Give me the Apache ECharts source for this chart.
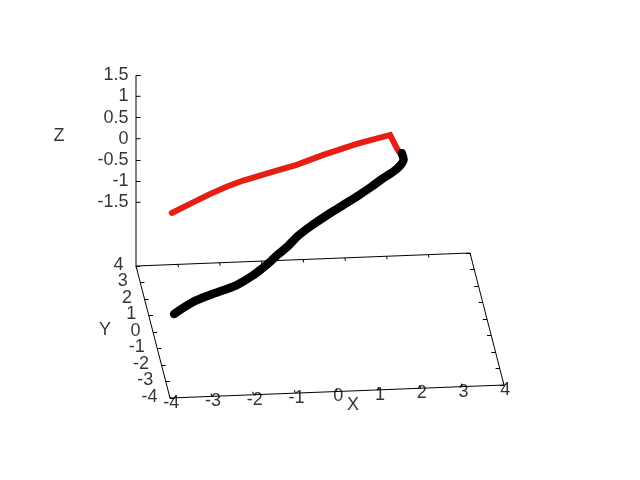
<!DOCTYPE html>
<html>
<head>
<meta charset="utf-8">
<title>3D trajectory</title>
<script src="https://cdn.jsdelivr.net/npm/echarts@6/dist/echarts.min.js"></script>
<style>
  html, body { margin: 0; padding: 0; background: #fff; }
  #main { width: 640px; height: 480px; }
</style>
</head>
<body>
<div id="main"></div>
<script>
// axis ranges / tick labels
const xRange = [-4, 4]
const yRange = [-4, 4]
const zRange = [-1.5, 1.5]
const xTicks = [-4, -3, -2, -1, 0, 1, 2, 3, 4]
const yTicks = [-4, -3, -2, -1, 0, 1, 2, 3, 4]
const zTicks = [-1.5, -1, -0.5, 0, 0.5, 1, 1.5]

// red part of the trajectory
const redX = [-3.55, -3.04, -2.64, -2.24, -1.84, -1.44, -1.04, -0.56, 0.08, 0.88, 1.68, 1.84, 1.92]
const redY = [0, 0, 0, 0, 0, 0, 0, 0, 0, 0, 0, 0, 0]
const redZ = [-0.21, 0.02, 0.20, 0.36, 0.49, 0.59, 0.69, 0.81, 1.02, 1.25, 1.43, 1.11, 0.99]

// black part of the trajectory
const blackX = [1.96, 1.98, 1.80, 1.45, 1.12, 0.78, 0.43, 0.10, -0.40, -0.71, -0.99, -1.23, -1.44, -1.65, -1.88, -2.30, -2.96, -3.38, -3.86]
const blackY = [0, -0.2, -0.4, -0.6, -0.8, -1.0, -1.2, -1.4, -1.6, -1.8, -2.0, -2.2, -2.4, -2.6, -2.8, -3.0, -3.2, -3.4, -3.6]
const blackZ = [0.99, 0.91, 0.78, 0.65, 0.52, 0.40, 0.29, 0.19, -0.03, -0.16, -0.33, -0.42, -0.51, -0.58, -0.65, -0.79, -0.92, -0.99, -1.18]

// view (gnuplot like, ticslevel 0.5)
const zBase = zRange[0] - 0.5 * (zRange[1] - zRange[0])
const origin = [320, 325.5]   // screen pos of (0, 0, zBase)
const ex = [41.75, -1.625]
const ey = [-4.25, -16.5]
const ez = [0, -42.4]

const proj = (x, y, z) => [
  origin[0] + ex[0] * x + ey[0] * y + ez[0] * (z - zBase),
  origin[1] + ex[1] * x + ey[1] * y + ez[1] * (z - zBase)
]

const textStyle = {color: '#000', fontSize: 18, fontFamily: 'Liberation Sans'}
const [x0, x1] = xRange
const [y0, y1] = yRange

// frame
let frame = [proj(x0, y0, zBase), proj(x1, y0, zBase), proj(x1, y1, zBase), proj(x0, y1, zBase), proj(x0, y0, zBase)]
let zAxisLine = [proj(x0, y1, zBase), proj(x0, y1, zRange[1])]

// tick marks
let ticks = []
xTicks.forEach(v => {
  ticks.push({coords: [proj(v, y0, zBase), proj(v, y0 + 0.18, zBase)]})
  ticks.push({coords: [proj(v, y1, zBase), proj(v, y1 - 0.18, zBase)]})
})
yTicks.forEach(v => {
  ticks.push({coords: [proj(x0, v, zBase), proj(x0 + 0.1, v, zBase)]})
  ticks.push({coords: [proj(x1, v, zBase), proj(x1 - 0.1, v, zBase)]})
})
zTicks.forEach(v => {
  ticks.push({coords: [proj(x0, y1, v), proj(x0 + 0.11, y1, v)]})
})

// text placed as labels of invisible scatter points
const labelSeries = (items, label) => {
  let lab = Object.assign({show: true, formatter: '{b}'}, textStyle, label)
  return {
    type: 'scatter',
    symbolSize: 1,
    silent: true,
    itemStyle: {color: 'rgba(0,0,0,0)'},
    data: items.map(d => ({name: d.name, value: d.value, label: lab})),
    label: lab
  }
}

let xLabels = xTicks.map(v => ({name: String(v), value: proj(v, y0 - 0.3, zBase)}))
let yLabels = yTicks.map(v => ({name: String(v), value: proj(x0, v, zBase)}))
let zLabels = zTicks.map(v => ({name: String(v), value: proj(x0, y1, v)}))

const curve = (xs, ys, zs) => xs.map((x, i) => proj(x, ys[i], zs[i]))

let chart = echarts.init(document.getElementById('main'))
let option = {
  animation: false,
  textStyle: textStyle,
  grid: {left: 0, right: 0, top: 0, bottom: 0},
  xAxis: {type: 'value', min: 0, max: 640, show: false},
  yAxis: {type: 'value', min: 0, max: 480, inverse: true, show: false},
  series: [
    {
      type: 'line', data: frame, symbol: 'none', silent: true,
      lineStyle: {color: '#000', width: 1}
    },
    {
      type: 'line', data: zAxisLine, symbol: 'none', silent: true,
      lineStyle: {color: '#000', width: 1}
    },
    {
      type: 'lines', coordinateSystem: 'cartesian2d', data: ticks, silent: true,
      lineStyle: {color: '#000', width: 1, opacity: 1}
    },
    labelSeries(xLabels, {position: 'inside'}),
    labelSeries(yLabels, {position: 'left', distance: 12, offset: [0, -1]}),
    labelSeries(zLabels, {position: 'left', distance: 7}),
    labelSeries([{name: 'X', value: proj(0, y0, zBase)}], {position: 'inside', offset: [16, 13.5]}),
    labelSeries([{name: 'Y', value: proj(x0, 0, zBase)}], {position: 'inside', offset: [-48, -1.5]}),
    labelSeries([{name: 'Z', value: proj(x0, y1, 0)}], {position: 'inside', offset: [-77, -2.5]}),
    {
      name: 'red', type: 'line', data: curve(redX, redY, redZ), symbol: 'none', silent: true,
      lineStyle: {color: '#e51f14', width: 6, cap: 'round', join: 'miter'}
    },
    {
      name: 'black', type: 'line', data: curve(blackX, blackY, blackZ), symbol: 'none', silent: true,
      smooth: 0.3,
      lineStyle: {color: '#000', width: 8.5, cap: 'round', join: 'round'}
    }
  ]
}
chart.setOption(option)
</script>
</body>
</html>
